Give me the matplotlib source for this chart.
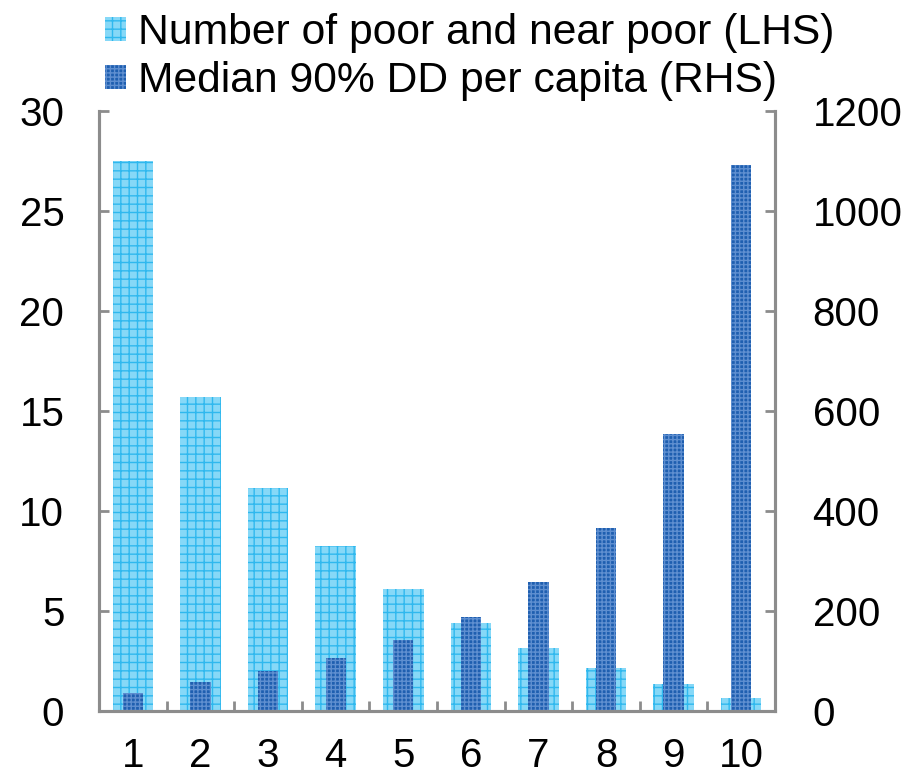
import matplotlib.pyplot as plt
import numpy as np

plt.rcParams['font.family'] = ['Liberation Sans', 'DejaVu Sans']
plt.rcParams['hatch.linewidth'] = 1.0

deciles = ['1', '2', '3', '4', '5', '6', '7', '8', '9', '10']
poor_near_poor = [27.5, 15.7, 11.15, 8.25, 6.1, 4.4, 3.15, 2.15, 1.35, 0.65]
median_dd = [36, 58, 80, 106, 142, 188, 258, 366, 554, 1092]

x = np.arange(1, len(deciles) + 1)
gris = '#8c8c8c'

fig = plt.figure(figsize=(9.09, 7.77), dpi=100)
ax = fig.add_axes([0.109, 0.085, 0.7436, 0.772])
ax2 = ax.twinx()

b1 = ax.bar(x, poor_near_poor, width=0.6, color='#86d8f7', edgecolor='#2fb8ee',
            hatch='++', linewidth=0, label='Number of poor and near poor (LHS)')
b2 = ax2.bar(x, median_dd, width=0.3, color='#1f5fb0', edgecolor='#5f8fd0',
             hatch='++++', linewidth=0, label='Median 90% DD per capita (RHS)')

ax.set_xlim(0.5, 10.5)
ax.set_ylim(0, 30)
ax2.set_ylim(0, 1200)
ax.set_yticks(np.arange(0, 31, 5))
ax2.set_yticks(np.arange(0, 1201, 200))
ax.set_xticks(x)
ax.set_xticklabels(deciles)
ax.set_xticks(np.arange(1.5, 10, 1), minor=True)

for a in (ax, ax2):
    for s in a.spines.values():
        s.set_color(gris)
        s.set_linewidth(2.2)
    a.spines['top'].set_visible(False)

ax.tick_params(axis='x', which='major', length=0, labelsize=29, pad=19)
ax.tick_params(axis='x', which='minor', direction='in', length=7, width=2, color=gris)
ax.tick_params(axis='y', direction='in', length=7, width=2, color=gris, labelsize=29, pad=25)
ax2.tick_params(axis='y', direction='in', length=7, width=2, color=gris, labelsize=29, pad=27)

fig.legend(handles=[b1, b2], loc='upper left', bbox_to_anchor=(0.097, 1.005),
           frameon=False, fontsize=30.7, handlelength=0.49, handleheight=0.49,
           handletextpad=0.28, labelspacing=0.18, borderaxespad=0)

fig.savefig('out.png', dpi=100)
